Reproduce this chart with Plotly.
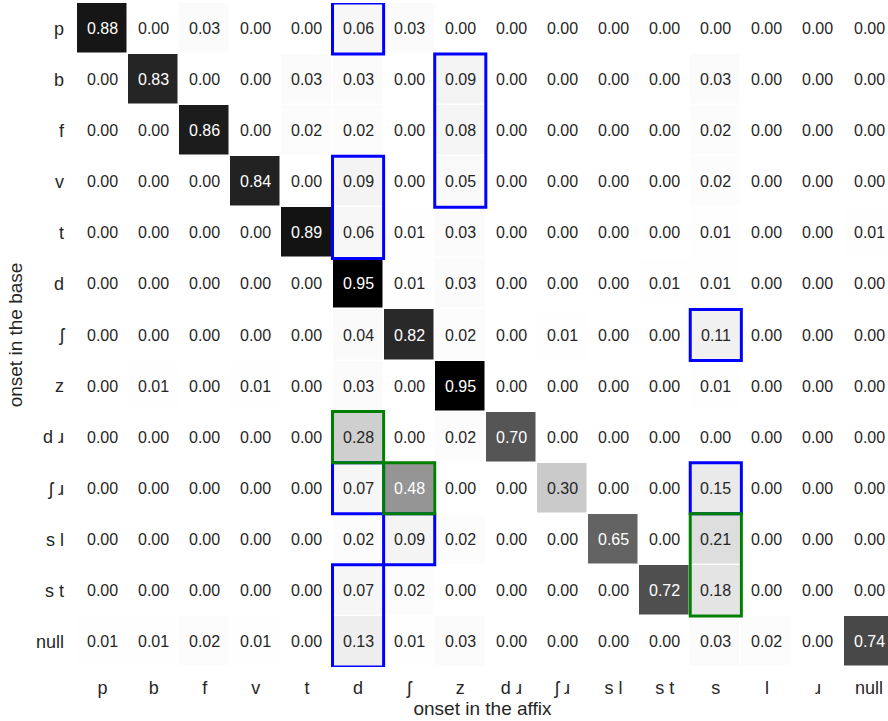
import plotly.graph_objects as go
import plotly.colors as pc

cols = ["p", "b", "f", "v", "t", "d", "ʃ", "z", "d ɹ", "ʃ ɹ", "s l", "s t", "s", "l", "ɹ", "null"]
rows = ["p", "b", "f", "v", "t", "d", "ʃ", "z", "d ɹ", "ʃ ɹ", "s l", "s t", "null"]

row_p    = [0.88, 0.00, 0.03, 0.00, 0.00, 0.06, 0.03, 0.00, 0.00, 0.00, 0.00, 0.00, 0.00, 0.00, 0.00, 0.00]
row_b    = [0.00, 0.83, 0.00, 0.00, 0.03, 0.03, 0.00, 0.09, 0.00, 0.00, 0.00, 0.00, 0.03, 0.00, 0.00, 0.00]
row_f    = [0.00, 0.00, 0.86, 0.00, 0.02, 0.02, 0.00, 0.08, 0.00, 0.00, 0.00, 0.00, 0.02, 0.00, 0.00, 0.00]
row_v    = [0.00, 0.00, 0.00, 0.84, 0.00, 0.09, 0.00, 0.05, 0.00, 0.00, 0.00, 0.00, 0.02, 0.00, 0.00, 0.00]
row_t    = [0.00, 0.00, 0.00, 0.00, 0.89, 0.06, 0.01, 0.03, 0.00, 0.00, 0.00, 0.00, 0.01, 0.00, 0.00, 0.01]
row_d    = [0.00, 0.00, 0.00, 0.00, 0.00, 0.95, 0.01, 0.03, 0.00, 0.00, 0.00, 0.01, 0.01, 0.00, 0.00, 0.00]
row_sh   = [0.00, 0.00, 0.00, 0.00, 0.00, 0.04, 0.82, 0.02, 0.00, 0.01, 0.00, 0.00, 0.11, 0.00, 0.00, 0.00]
row_z    = [0.00, 0.01, 0.00, 0.01, 0.00, 0.03, 0.00, 0.95, 0.00, 0.00, 0.00, 0.00, 0.01, 0.00, 0.00, 0.00]
row_dr   = [0.00, 0.00, 0.00, 0.00, 0.00, 0.28, 0.00, 0.02, 0.70, 0.00, 0.00, 0.00, 0.00, 0.00, 0.00, 0.00]
row_shr  = [0.00, 0.00, 0.00, 0.00, 0.00, 0.07, 0.48, 0.00, 0.00, 0.30, 0.00, 0.00, 0.15, 0.00, 0.00, 0.00]
row_sl   = [0.00, 0.00, 0.00, 0.00, 0.00, 0.02, 0.09, 0.02, 0.00, 0.00, 0.65, 0.00, 0.21, 0.00, 0.00, 0.00]
row_st   = [0.00, 0.00, 0.00, 0.00, 0.00, 0.07, 0.02, 0.00, 0.00, 0.00, 0.00, 0.72, 0.18, 0.00, 0.00, 0.00]
row_null = [0.01, 0.01, 0.02, 0.01, 0.00, 0.13, 0.01, 0.03, 0.00, 0.00, 0.00, 0.00, 0.03, 0.02, 0.00, 0.74]

z = [row_p, row_b, row_f, row_v, row_t, row_d, row_sh, row_z, row_dr, row_shr, row_sl, row_st, row_null]

# highlight boxes: (column, first row, last row)
blue_boxes = [("d", "p", "p"), ("z", "b", "v"), ("d", "v", "t"), ("s", "ʃ", "ʃ"),
              ("d", "ʃ ɹ", "ʃ ɹ"), ("s", "ʃ ɹ", "ʃ ɹ"), ("ʃ", "s l", "s l"), ("d", "s t", "null")]
green_boxes = [("d", "d ɹ", "d ɹ"), ("ʃ", "ʃ ɹ", "ʃ ɹ"), ("s", "s l", "s t")]

zmax = max(max(r) for r in z)
greys = pc.sequential.Greys
scale = [[i / (len(greys) - 1), c] for i, c in enumerate(greys)]

fig = go.Figure(go.Heatmap(
    z=z, x=list(range(len(cols))), y=list(range(len(rows))),
    colorscale=scale, zmin=0, zmax=zmax, showscale=False,
    xgap=1.5, ygap=1.5, hoverinfo="skip"))

font_family = "Liberation Sans, Arial, sans-serif"
for i, r in enumerate(z):
    for j, v in enumerate(r):
        fig.add_annotation(x=j, y=i, text=f"{v:.2f}", showarrow=False,
                           font=dict(size=16, family=font_family,
                                     color="white" if v / zmax > 0.45 else "#262626"))

def add_box(box, color):
    c, r0, r1 = box
    j = cols.index(c)
    i0, i1 = rows.index(r0), rows.index(r1)
    fig.add_shape(type="rect", xref="x", yref="y",
                  x0=j - 0.5, x1=j + 0.5, y0=i0 - 0.5, y1=i1 + 0.5,
                  line=dict(color=color, width=3), fillcolor="rgba(0,0,0,0)")

for b in blue_boxes:
    add_box(b, "#0000ff")
for b in green_boxes:
    add_box(b, "#008000")

fig.update_layout(
    width=888, height=721,
    margin=dict(l=77, r=0, t=3, b=54),
    paper_bgcolor="white", plot_bgcolor="white",
    font=dict(family=font_family, color="#262626"),
)
fig.update_xaxes(
    tickmode="array", tickvals=list(range(len(cols))), ticktext=cols,
    range=[-0.5, 15.37], showgrid=False, zeroline=False, showline=False,
    ticks="", ticklabelstandoff=8, tickfont=dict(size=18),
    title=dict(text="onset in the affix", font=dict(size=19), standoff=4),
)
fig.update_yaxes(
    tickmode="array", tickvals=list(range(len(rows))), ticktext=rows,
    range=[len(rows) - 0.5, -0.5], showgrid=False, zeroline=False, showline=False,
    ticks="", ticklabelstandoff=12, tickfont=dict(size=18),
    title=dict(text="onset in the base", font=dict(size=19), standoff=8),
)

fig.write_html("out.html")
